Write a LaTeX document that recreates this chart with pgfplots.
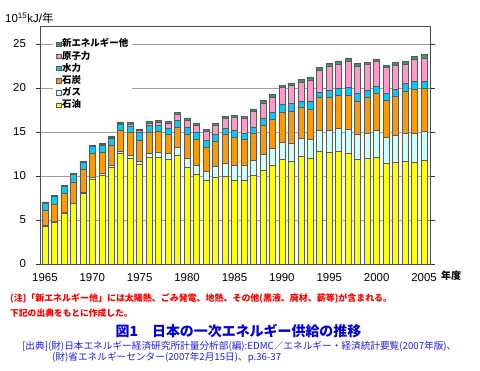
\documentclass[border=0pt]{standalone}
\usepackage{fontspec}
\setmainfont{Noto Sans CJK JP}
\newfontfamily\numfont{Liberation Sans}
\usepackage{pgfplots}
\pgfplotsset{compat=1.18}
\usepackage{pgfplotstable}
\definecolor{cOil}{RGB}{255,255,0}
\definecolor{cGas}{RGB}{204,255,255}
\definecolor{cCoal}{RGB}{255,153,0}
\definecolor{cHydro}{RGB}{0,204,255}
\definecolor{cNuc}{RGB}{255,153,204}
\definecolor{cNew}{RGB}{51,153,102}
\definecolor{cRed}{RGB}{255,0,0}
\definecolor{cBlue}{RGB}{0,0,220}
\definecolor{cBlue2}{RGB}{30,30,230}
% segment values (10^15 kJ)
\pgfplotstableread{
year oil gas coal hydro nuc new
1965 4.24 0.11 1.79 0.79 0.00 0.12
1966 4.77 0.13 1.92 0.83 0.00 0.15
1967 5.80 0.10 2.13 0.76 0.00 0.15
1968 6.86 0.07 2.39 0.83 0.00 0.11
1969 7.99 0.15 2.66 0.80 0.02 0.10
1970 9.66 0.19 2.69 0.79 0.05 0.12
1971 10.11 0.16 2.42 0.76 0.10 0.13
1972 11.02 0.23 2.27 0.76 0.12 0.15
1973 12.54 0.26 2.39 0.71 0.10 0.15
1974 12.05 0.25 2.62 0.78 0.20 0.20
1975 11.29 0.38 2.42 0.87 0.19 0.19
1976 12.12 0.48 2.32 0.80 0.26 0.27
1977 12.16 0.57 2.35 0.70 0.31 0.25
1978 11.93 0.67 2.17 0.70 0.55 0.20
1979 12.37 0.88 2.25 0.85 0.70 0.20
1980 10.98 1.02 2.70 0.88 0.76 0.26
1981 10.19 1.01 2.95 0.83 0.76 0.22
1982 9.47 1.02 2.83 0.76 1.01 0.19
1983 9.89 1.17 2.86 0.83 1.06 0.15
1984 10.00 1.50 3.20 0.70 1.13 0.22
1985 9.50 1.67 3.21 0.82 1.44 0.26
1986 9.50 1.67 3.02 0.64 1.77 0.20
1987 10.08 1.69 3.06 0.75 1.78 0.26
1988 10.68 1.77 3.29 0.86 1.70 0.27
1989 11.20 1.93 3.29 0.86 1.70 0.30
1990 11.89 1.96 3.43 0.83 1.93 0.30
1991 11.66 2.11 3.55 0.91 2.03 0.27
1992 12.19 2.15 3.43 0.76 2.11 0.30
1993 12.00 2.19 3.43 0.91 2.39 0.28
1994 12.83 2.37 3.70 0.60 2.50 0.30
1995 12.72 2.48 3.70 0.84 2.75 0.30
1996 12.79 2.61 3.77 0.75 2.83 0.34
1997 12.57 2.71 3.85 0.91 3.02 0.37
1998 11.89 2.83 3.73 0.91 3.06 0.37
1999 12.00 2.83 4.07 0.84 2.90 0.30
2000 12.15 3.05 4.16 0.87 2.83 0.26
2001 11.40 2.98 4.22 0.83 2.87 0.30
2002 11.51 3.13 4.45 0.76 2.72 0.30
2003 11.66 3.24 4.68 0.95 2.15 0.34
2004 11.55 3.28 5.02 0.90 2.50 0.37
2005 11.81 3.25 4.86 0.83 2.68 0.38
}\data
\begin{document}
\begin{tikzpicture}
\useasboundingbox (0,0) rectangle (480bp,371bp);
\begin{axis}[
  at={(40.5bp,107bp)}, anchor=south west,
  scale only axis, width=389.5bp, height=238bp,
  xmin=1964.53, xmax=2005.63, ymin=0, ymax=27.05,
  ybar stacked, bar width=6bp,
  xtick={1965,1970,...,2005}, ytick={0,5,...,25},
  ymajorgrids, grid style={gray!75, line width=0.9bp},
  tick align=outside, major tick length=4.5bp,
  xtick style={draw=none},
  ytick style={gray!40!black, line width=0.8bp},
  axis line style={gray!60!black, line width=0.8bp},
  /pgf/number format/assume math mode=true,
  /pgf/number format/1000 sep={},
  tick label style={font=\numfont\fontsize{11.5}{12}\selectfont},
  xticklabel style={yshift=-1bp},
  yticklabel style={xshift=-6.5bp},
  every axis plot/.append style={draw=gray!70!black, line width=0.6bp},
  reverse legend,
  legend cell align=left,
  legend style={at={(0.032,0.958)}, anchor=north west, draw=none, fill=white,
     font=\bfseries\fontsize{9.5}{10}\selectfont, row sep=0.4bp, inner xsep=3bp, inner ysep=2bp,
     nodes={inner sep=1bp, text height=7.8bp, text depth=2bp}},
  legend image code/.code={\draw[#1, line width=0.5bp] (0bp,-2.2bp) rectangle (4.4bp,2.2bp);},
]
\addplot[fill=cOil] table[x=year,y=oil]{\data};
\addplot[fill=cGas] table[x=year,y=gas]{\data};
\addplot[fill=cCoal] table[x=year,y=coal]{\data};
\addplot[fill=cHydro] table[x=year,y=hydro]{\data};
\addplot[fill=cNuc] table[x=year,y=nuc]{\data};
\addplot[fill=cNew] table[x=year,y=new]{\data};
\legend{石油,ガス,石炭,水力,原子力,新エネルギー他}
\end{axis}
\node[anchor=west, inner sep=0] at (5bp,353bp) {\numfont\fontsize{11.5}{12}\selectfont 10\textsuperscript{15}kJ/\fontspec{Noto Sans CJK JP}年};
\node[anchor=west, inner sep=0] at (441bp,95bp) {\bfseries\fontsize{10}{11}\selectfont 年度};
\node[anchor=west, inner sep=0, text=cRed] at (10bp,73bp) {\bfseries\fontsize{9}{10}\selectfont (注)「新エネルギー他」には太陽熱、ごみ発電、地熱、その他(黒液、廃材、薪等)が含まれる。};
\node[anchor=west, inner sep=0, text=cRed] at (10bp,58bp) {\bfseries\fontsize{8.8}{10}\selectfont 下記の出典をもとに作成した。};
\node[inner sep=0, text=cBlue] at (238.5bp,40bp) {\bfseries\fontsize{14}{15}\selectfont 図1\quad 日本の一次エネルギー供給の推移};
\node[anchor=west, inner sep=0, text=cBlue2] at (22bp,25bp) {\fontsize{9.7}{10}\selectfont [出典](財)日本エネルギー経済研究所計量分析部(編):EDMC／エネルギー・経済統計要覧(2007年版)、};
\node[anchor=west, inner sep=0, text=cBlue2] at (52bp,13.5bp) {\fontsize{9.7}{10}\selectfont (財)省エネルギーセンター(2007年2月15日)、p.36-37};
\end{tikzpicture}
\end{document}
